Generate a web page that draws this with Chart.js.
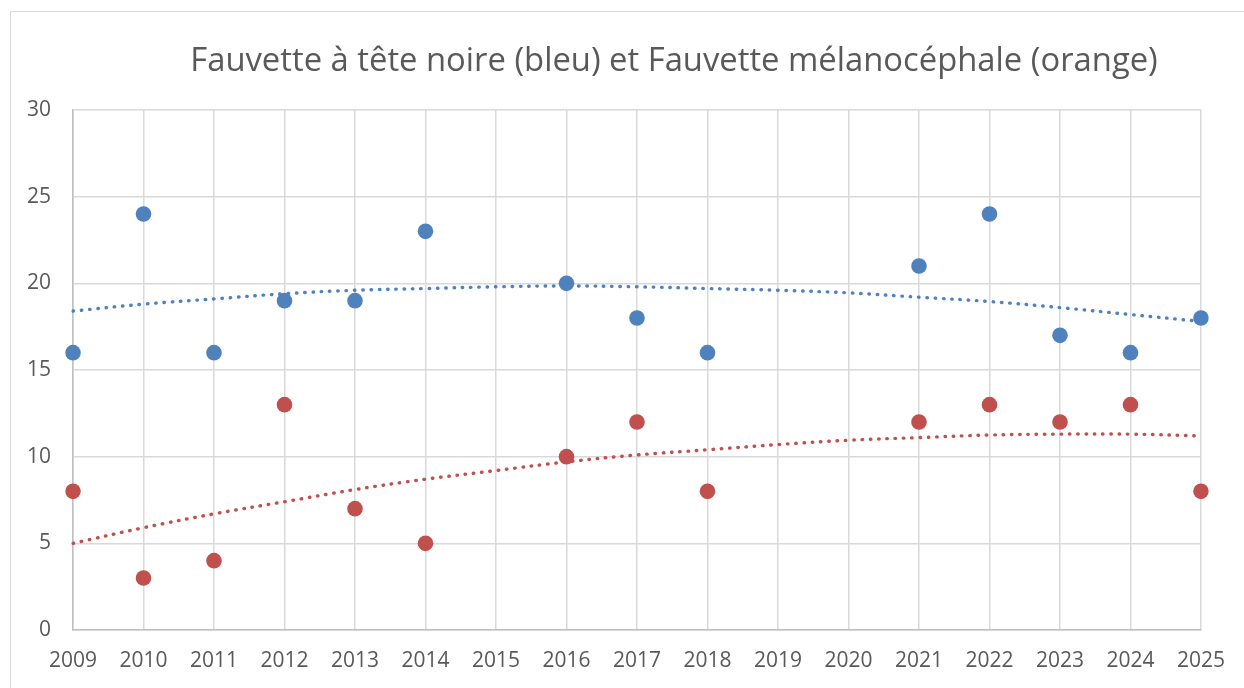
<!DOCTYPE html>
<html>
<head>
<meta charset="utf-8">
<script src="https://cdn.jsdelivr.net/npm/chart.js@4.4.1/dist/chart.umd.min.js"></script>
<style>
html,body{margin:0;padding:0;background:#fff;}
#wrap{position:relative;width:1244px;height:688px;}
</style>
</head>
<body>
<div id="wrap"><canvas id="c" width="1244" height="688"></canvas></div>
<script>
const titleText = "Fauvette à tête noire (bleu) et Fauvette mélanocéphale (orange)";
const years = ["2009","2010","2011","2012","2013","2014","2015","2016","2017","2018","2019","2020","2021","2022","2023","2024","2025"];
const blackcap = [16,24,16,19,19,23,null,20,18,16,null,null,21,24,17,16,18];
const sardinian = [8,3,4,13,7,5,null,10,12,8,null,null,12,13,12,13,8];
const blackcapTrend = [18.4,18.8,19.1,19.4,19.6,19.7,19.8,19.85,19.8,19.7,19.6,19.45,19.2,18.95,18.6,18.2,17.8];
const sardinianTrend = [5.0,5.9,6.7,7.4,8.1,8.7,9.2,9.7,10.1,10.4,10.7,10.95,11.1,11.25,11.3,11.3,11.2];
const yTicks = [0,5,10,15,20,25,30];

const BLUE = "#4F81BD", RED = "#C0504D", TXT = "#595959";
const FONT = "'Open Sans', 'Liberation Sans', sans-serif";

const framePlugin = {
  id: 'frame',
  beforeDraw(chart) {
    const ctx = chart.ctx;
    ctx.save();
    ctx.strokeStyle = "#D9D9D9";
    ctx.lineWidth = 1;
    ctx.strokeRect(10.5, 11.5, 1400, 900);
    ctx.restore();
  },
  afterDraw(chart) {
    const ctx = chart.ctx;
    ctx.save();
    let size = 30;
    ctx.font = size + "px " + FONT;
    const w = ctx.measureText(titleText).width;
    size = size * 968 / w;
    ctx.font = size + "px " + FONT;
    ctx.fillStyle = TXT;
    ctx.textAlign = "center";
    ctx.textBaseline = "alphabetic";
    ctx.fillText(titleText, 674, 71);
    ctx.restore();
  }
};

new Chart(document.getElementById('c'), {
  type: 'line',
  data: {
    labels: years,
    datasets: [
      { label: 'Tendance bleu', data: blackcapTrend, borderColor: BLUE, borderWidth: 3.4, borderDash: [0.5, 7.8], borderCapStyle: 'round', pointRadius: 0, tension: 0.4, order: 2, fill: false },
      { label: 'Tendance orange', data: sardinianTrend, borderColor: RED, borderWidth: 3.4, borderDash: [0.5, 7.8], borderCapStyle: 'round', pointRadius: 0, tension: 0.4, order: 2, fill: false },
      { label: 'Fauvette à tête noire', data: blackcap, showLine: false, pointRadius: 7.8, pointHoverRadius: 7.8, pointBackgroundColor: BLUE, pointBorderColor: BLUE, pointBorderWidth: 0, order: 1 },
      { label: 'Fauvette mélanocéphale', data: sardinian, showLine: false, pointRadius: 7.8, pointHoverRadius: 7.8, pointBackgroundColor: RED, pointBorderColor: RED, pointBorderWidth: 0, order: 1 }
    ]
  },
  options: {
    responsive: false,
    animation: false,
    layout: { padding: { top: 110, right: 43, bottom: 0, left: 0 } },
    plugins: { legend: { display: false }, title: { display: false }, tooltip: { enabled: false } },
    scales: {
      x: {
        offset: false,
        grid: { color: "#D9D9D9", lineWidth: 1.5, drawTicks: false },
        border: { color: "#BFBFBF", width: 1.5 },
        ticks: { color: TXT, font: { family: FONT, size: 21 }, padding: 18, maxRotation: 0, autoSkip: false },
        afterFit(s) { s.height = 58; }
      },
      y: {
        min: 0, max: 30,
        afterBuildTicks(s) { s.ticks = yTicks.map(v => ({ value: v })); },
        grid: { color: "#D9D9D9", lineWidth: 1.5, drawTicks: false },
        border: { color: "#BFBFBF", width: 1.5 },
        ticks: { color: TXT, font: { family: FONT, size: 21 }, padding: 22 },
        afterFit(s) { s.width = 73; }
      }
    }
  },
  plugins: [framePlugin]
});
</script>
</body>
</html>
